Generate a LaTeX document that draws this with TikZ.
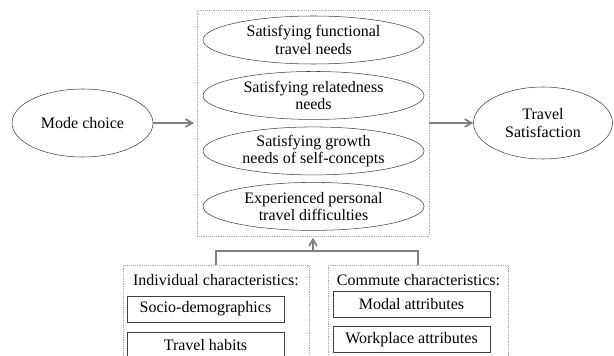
\documentclass[tikz,border=0pt]{standalone}
\usepackage{fontspec}
\setmainfont{Liberation Serif}
\usepackage{tikz}
\usetikzlibrary{shapes.geometric, positioning, arrows}

\begin{document}
\begin{tikzpicture}[x=0.75pt, y=-0.75pt, node distance=41.6pt, on grid,
    font=\fontsize{12}{13}\selectfont, >=angle 60,
    need/.style={ellipse, draw=black!75, minimum width=165.75pt, minimum height=36pt, inner sep=0pt, align=center},
    outcome/.style={ellipse, draw=black!75, inner sep=0pt, align=center},
    grp/.style={draw=black!35, densely dotted, inner sep=0pt},
    attr/.style={rectangle, draw=black!75, minimum width=117.75pt, minimum height=19.5pt, inner sep=0pt},
    link/.style={draw=black!50, line width=1.3pt}]
    \path[use as bounding box, clip] (0,0) rectangle (614,356);

    % mediating needs
    \node[grp, minimum width=174pt, minimum height=169.5pt] (needs) at (313,123) {};
    \node[need] (fun) at (313.5,40) {Satisfying functional\\travel needs};
    \node[need, below=of fun] (rel) {Satisfying relatedness\\needs};
    \node[need, below=of rel] (gro) {Satisfying growth\\needs of self-concepts};
    \node[need, below=of gro] (dif) {Experienced personal\\travel difficulties};

    \node[outcome, minimum width=105.75pt, minimum height=51pt] (mode) at (82.5,123) {Mode choice};
    \node[outcome, minimum width=104.25pt, minimum height=54pt] (sat) at (543,123) {Travel\\Satisfaction};

    % background characteristics
    \node[grp, minimum width=139.5pt, minimum height=80.25pt] (indiv) at (216,318.5) {};
    \node[grp, minimum width=135pt, minimum height=80.25pt] (commute) at (418,318.5) {};
    \node (indivlbl) at (216,280) {Individual characteristics:};
    \node (commutelbl) at (418.5,280) {Commute characteristics:};
    \node[attr] (socio) at (205.5,309) {Socio-demographics};
    \node[attr] (habits) at (205.5,345) {Travel habits};
    \node[attr] (modal) at (411.5,304) {Modal attributes};
    \node[attr] (work) at (411.5,339.5) {Workplace attributes};

    \coordinate (merge) at (313,251);
    \draw[link, ->, shorten >=2pt] (mode) -- (needs);
    \draw[link, ->] (needs) -- (sat);
    \draw[link] (indiv.north) |- (merge) -| (commute.north);
    \draw[link, ->, shorten >=1pt] (merge) -- (needs.south);
\end{tikzpicture}
\end{document}
